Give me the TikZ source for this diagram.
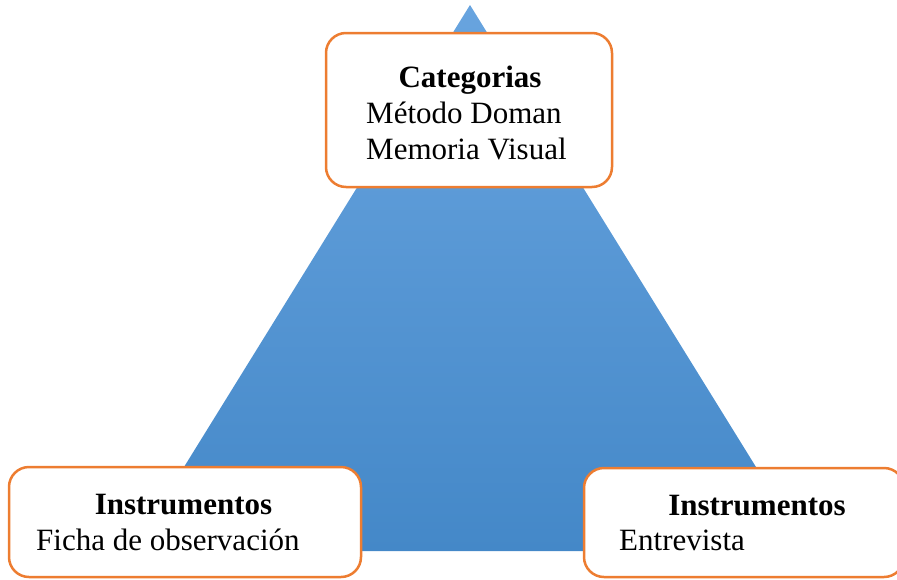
\documentclass[tikz,border=0pt]{standalone}
\usepackage{fontspec}
\setmainfont{Liberation Serif}
\definecolor{naranja}{RGB}{237,125,49}
\definecolor{azularriba}{RGB}{104,164,223}
\definecolor{azulabajo}{RGB}{68,136,200}
\begin{document}
\begin{tikzpicture}[x=1pt, y=-1pt,
  marco/.style={draw=naranja, line width=2.5pt, rounded corners=20pt, fill=white},
  titulo/.style={font=\fontsize{31}{36}\selectfont\bfseries, anchor=base, inner sep=0pt},
  texto/.style={font=\fontsize{31}{36}\selectfont, anchor=base west, inner sep=0pt}]
\useasboundingbox (0,0) rectangle (897,579);
\clip (0,0) rectangle (897,579);
% triangulo de fondo
\shade[top color=azularriba, bottom color=azulabajo] (470,5)--(808,551)--(132,551)--cycle;
% cuadros
\node[marco, minimum width=286pt, minimum height=154pt] (categ) at (469,110) {};
\node[marco, minimum width=352pt, minimum height=110pt] (ficha) at (185,522) {};
\node[marco, minimum width=320pt, minimum height=109pt] (entrev) at (744,522.5) {};
% textos
\node[titulo] (categtit) at (470,87) {Categorias};
\node[texto] (metodo) at (366,123) {Método Doman};
\node[texto] (memoria) at (366,159) {Memoria Visual};
\node[titulo] (fichatit) at (183.5,514) {Instrumentos};
\node[texto] (fichatxt) at (36,550) {Ficha de observación};
\node[titulo] (entrevtit) at (757,515) {Instrumentos};
\node[texto] (entrevtxt) at (619,550) {Entrevista};
\end{tikzpicture}
\end{document}
